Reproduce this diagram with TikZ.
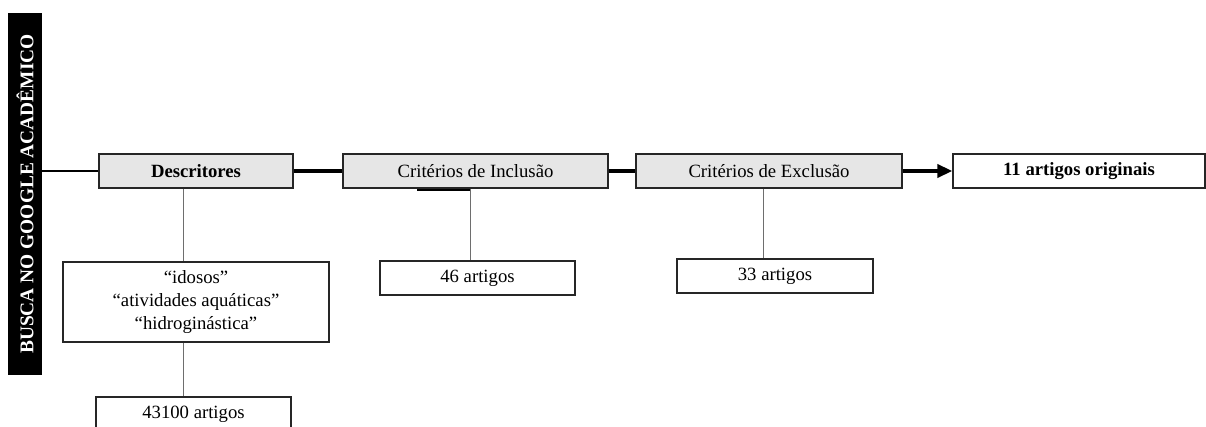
\documentclass[tikz,border=0pt]{standalone}
\usepackage{fontspec}
\setmainfont{Liberation Serif}
\usetikzlibrary{arrows.meta}

\definecolor{boxgray}{RGB}{230,230,230}
\definecolor{linkgray}{RGB}{110,110,110}

\begin{document}
\begin{tikzpicture}[x=1pt,y=-1pt,
    every node/.style={font=\fontsize{18.7}{23}\selectfont,inner sep=0pt},
    head/.style={draw=black!85,line width=1.3pt,fill=boxgray,minimum width=#1,minimum height=34},
    res/.style={draw=black!85,line width=1.3pt,fill=white,minimum width=#1,minimum height=34,align=center},
    flow/.style={line width=4pt},
    link/.style={draw=linkgray,line width=0.9pt}]
    \useasboundingbox (0,0) rectangle (1206,427);
    \clip (0,0) rectangle (1206,427);

    \node[fill=black,text=white,rotate=90,minimum width=362,minimum height=34,font=\fontsize{19.4}{23}\selectfont\bfseries] (busca) at (25,194) {BUSCA NO GOOGLE ACADÊMICO};

    \node[head=194] (desc) at (196,171)   {\bfseries Descritores};
    \node[head=265] (incl) at (475.5,171) {Critérios de Inclusão};
    \node[head=266] (excl) at (769,171)   {Critérios de Exclusão};
    \node[res=252]  (final) at (1079,171) {\bfseries 11 artigos originais};

    \node[res=266,minimum height=80] (termos) at (196,302) {“idosos”\\“atividades aquáticas”\\“hidroginástica”};
    \node[res=195] (n43100) at (193.5,414) {43100 artigos};
    \node[res=195] (n46)    at (477.5,278) {46 artigos};
    \node[res=196] (n33)    at (775,276)   {33 artigos};

    \draw[line width=2.4pt] (desc.west -| busca.south) -- (desc.west);
    \draw[flow] (desc) -- (incl);
    \draw[flow] (incl) -- (excl);
    \draw[flow,-{Triangle[length=15pt,width=13pt]}] (excl) -- (final);

    \draw[link] ([xshift=-13pt]desc.south) -- ([xshift=-13pt]termos.north);
    \draw[link] ([xshift=-13pt]termos.south) -- ([xshift=-10.5pt]n43100.north);
    \draw[link] ([xshift=-5.5pt]incl.south) -- ([xshift=-7.5pt]n46.north);
    \draw[link] ([xshift=-6pt]excl.south) -- ([xshift=-12pt]n33.north);
    \draw[line width=2pt] ([xshift=-58.5pt,yshift=-1pt]incl.south) -- ([xshift=-5.5pt,yshift=-1pt]incl.south);
\end{tikzpicture}
\end{document}
